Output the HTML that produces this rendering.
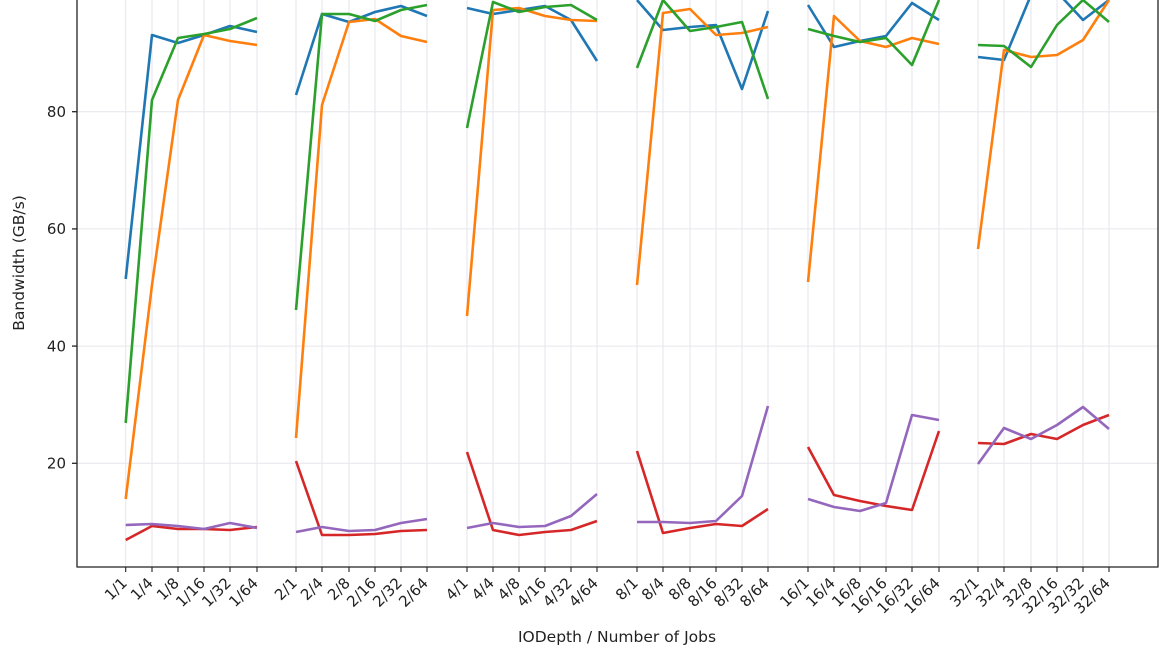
<!DOCTYPE html>
<html><head><meta charset="utf-8"><style>
html,body{margin:0;padding:0;background:#fff}
svg{display:block;font-family:"DejaVu Sans","Liberation Sans",sans-serif}
</style></head><body>
<svg width="1170" height="663" viewBox="0 0 1170 663" xmlns="http://www.w3.org/2000/svg">
<g stroke="#e6e6ec" stroke-width="1">
<line x1="77" y1="111.7" x2="1158" y2="111.7"/><line x1="77" y1="228.9" x2="1158" y2="228.9"/><line x1="77" y1="346.1" x2="1158" y2="346.1"/><line x1="77" y1="463.3" x2="1158" y2="463.3"/>
<line x1="125.7" y1="0" x2="125.7" y2="567"/><line x1="152" y1="0" x2="152" y2="567"/><line x1="178" y1="0" x2="178" y2="567"/><line x1="204" y1="0" x2="204" y2="567"/><line x1="230" y1="0" x2="230" y2="567"/><line x1="257" y1="0" x2="257" y2="567"/>
<line x1="296" y1="0" x2="296" y2="567"/><line x1="322" y1="0" x2="322" y2="567"/><line x1="349" y1="0" x2="349" y2="567"/><line x1="375" y1="0" x2="375" y2="567"/><line x1="401" y1="0" x2="401" y2="567"/><line x1="427" y1="0" x2="427" y2="567"/>
<line x1="467" y1="0" x2="467" y2="567"/><line x1="493" y1="0" x2="493" y2="567"/><line x1="519" y1="0" x2="519" y2="567"/><line x1="545" y1="0" x2="545" y2="567"/><line x1="571" y1="0" x2="571" y2="567"/><line x1="597" y1="0" x2="597" y2="567"/>
<line x1="637" y1="0" x2="637" y2="567"/><line x1="663" y1="0" x2="663" y2="567"/><line x1="690" y1="0" x2="690" y2="567"/><line x1="716" y1="0" x2="716" y2="567"/><line x1="742" y1="0" x2="742" y2="567"/><line x1="768" y1="0" x2="768" y2="567"/>
<line x1="808" y1="0" x2="808" y2="567"/><line x1="834" y1="0" x2="834" y2="567"/><line x1="860" y1="0" x2="860" y2="567"/><line x1="886" y1="0" x2="886" y2="567"/><line x1="912" y1="0" x2="912" y2="567"/><line x1="939" y1="0" x2="939" y2="567"/>
<line x1="978" y1="0" x2="978" y2="567"/><line x1="1004" y1="0" x2="1004" y2="567"/><line x1="1031" y1="0" x2="1031" y2="567"/><line x1="1057" y1="0" x2="1057" y2="567"/><line x1="1083" y1="0" x2="1083" y2="567"/><line x1="1109" y1="0" x2="1109" y2="567"/>
</g>
<g fill="none" stroke-width="2.6" stroke-linejoin="round">
<g stroke="#1f77b4">
<polyline points="125.7,279 152,35 178,43 204,35 230,26 257,32"/>
<polyline points="296,95 322,14 349,22 375,12 401,6 427,16"/>
<polyline points="467,8 493,14 519,10 545,6 571,20 597,61"/>
<polyline points="637,0 663,30 690,27 716,25 742,89 768,11"/>
<polyline points="808,5 834,47 860,41 886,36 912,3 939,20"/>
<polyline points="978,57 1004,60 1031,-5 1057,-8 1083,20 1109,0"/>
</g>
<g stroke="#ff7f0e">
<polyline points="125.7,499 152,285 178,100 204,35 230,41 257,45"/>
<polyline points="296,438 322,105 349,22 375,19 401,36 427,42"/>
<polyline points="467,316 493,10 519,8 545,16 571,20 597,21"/>
<polyline points="637,285 663,13 690,9 716,35 742,33 768,27"/>
<polyline points="808,282 834,16 860,41 886,47 912,38 939,44"/>
<polyline points="978,249 1004,50 1031,57 1057,55 1083,40 1109,0"/>
</g>
<g stroke="#2ca02c">
<polyline points="125.7,423 152,100 178,38 204,34 230,29 257,18"/>
<polyline points="296,310 322,14 349,14 375,21 401,10 427,5"/>
<polyline points="467,128 493,2 519,12 545,7 571,5 597,20"/>
<polyline points="637,68 663,0 690,31 716,27 742,22 768,99"/>
<polyline points="808,29 834,36 860,42 886,38 912,65 939,0"/>
<polyline points="978,45 1004,46 1031,67 1057,25 1083,0 1109,22"/>
</g>
<g stroke="#d62728">
<polyline points="125.7,540 152,526 178,529 204,529 230,530 257,527"/>
<polyline points="296,461 322,535 349,535 375,534 401,531 427,530"/>
<polyline points="467,452 493,530 519,535 545,532 571,530 597,521"/>
<polyline points="637,451 663,533 690,528 716,524 742,526 768,509"/>
<polyline points="808,447 834,495 860,501 886,506 912,510 939,431"/>
<polyline points="978,443 1004,444 1031,434 1057,439 1083,425 1109,415"/>
</g>
<g stroke="#9467bd">
<polyline points="125.7,525 152,524 178,526 204,529 230,523 257,528"/>
<polyline points="296,532 322,527 349,531 375,530 401,523 427,519"/>
<polyline points="467,528 493,523 519,527 545,526 571,516 597,494"/>
<polyline points="637,522 663,522 690,523 716,521 742,496 768,406"/>
<polyline points="808,499 834,507 860,511 886,503 912,415 939,420"/>
<polyline points="978,464 1004,428 1031,439 1057,425 1083,407 1109,429"/>
</g>
</g>
<g stroke="#222" stroke-width="1.3" fill="none">
<line x1="77" y1="0" x2="77" y2="567"/><line x1="1158" y1="0" x2="1158" y2="567"/><line x1="76.5" y1="567" x2="1158.5" y2="567"/>
<line x1="72" y1="111.7" x2="77" y2="111.7"/><line x1="72" y1="228.9" x2="77" y2="228.9"/><line x1="72" y1="346.1" x2="77" y2="346.1"/><line x1="72" y1="463.3" x2="77" y2="463.3"/>
</g>
<g stroke="#222" stroke-width="1.1">
<path d="M125.7 567v5M152 567v5M178 567v5M204 567v5M230 567v5M257 567v5M296 567v5M322 567v5M349 567v5M375 567v5M401 567v5M427 567v5M467 567v5M493 567v5M519 567v5M545 567v5M571 567v5M597 567v5M637 567v5M663 567v5M690 567v5M716 567v5M742 567v5M768 567v5M808 567v5M834 567v5M860 567v5M886 567v5M912 567v5M939 567v5M978 567v5M1004 567v5M1031 567v5M1057 567v5M1083 567v5M1109 567v5"/>
</g>
<g font-size="15" fill="#222" text-anchor="end">
<text x="66" y="0">100</text>
<text x="66" y="117">80</text><text x="66" y="234.2">60</text><text x="66" y="351.4">40</text><text x="66" y="468.6">20</text>
</g>
<g font-size="15" fill="#222" text-anchor="end">
<text transform="translate(128,584) rotate(-45)">1/1</text>
<text transform="translate(154,584) rotate(-45)">1/4</text>
<text transform="translate(180,584) rotate(-45)">1/8</text>
<text transform="translate(206,584) rotate(-45)">1/16</text>
<text transform="translate(232,584) rotate(-45)">1/32</text>
<text transform="translate(259,584) rotate(-45)">1/64</text>
<text transform="translate(298,584) rotate(-45)">2/1</text>
<text transform="translate(324,584) rotate(-45)">2/4</text>
<text transform="translate(351,584) rotate(-45)">2/8</text>
<text transform="translate(377,584) rotate(-45)">2/16</text>
<text transform="translate(403,584) rotate(-45)">2/32</text>
<text transform="translate(429,584) rotate(-45)">2/64</text>
<text transform="translate(469,584) rotate(-45)">4/1</text>
<text transform="translate(495,584) rotate(-45)">4/4</text>
<text transform="translate(521,584) rotate(-45)">4/8</text>
<text transform="translate(547,584) rotate(-45)">4/16</text>
<text transform="translate(573,584) rotate(-45)">4/32</text>
<text transform="translate(599,584) rotate(-45)">4/64</text>
<text transform="translate(639,584) rotate(-45)">8/1</text>
<text transform="translate(665,584) rotate(-45)">8/4</text>
<text transform="translate(692,584) rotate(-45)">8/8</text>
<text transform="translate(718,584) rotate(-45)">8/16</text>
<text transform="translate(744,584) rotate(-45)">8/32</text>
<text transform="translate(770,584) rotate(-45)">8/64</text>
<text transform="translate(810,584) rotate(-45)">16/1</text>
<text transform="translate(836,584) rotate(-45)">16/4</text>
<text transform="translate(862,584) rotate(-45)">16/8</text>
<text transform="translate(888,584) rotate(-45)">16/16</text>
<text transform="translate(914,584) rotate(-45)">16/32</text>
<text transform="translate(941,584) rotate(-45)">16/64</text>
<text transform="translate(980,584) rotate(-45)">32/1</text>
<text transform="translate(1006,584) rotate(-45)">32/4</text>
<text transform="translate(1033,584) rotate(-45)">32/8</text>
<text transform="translate(1059,584) rotate(-45)">32/16</text>
<text transform="translate(1085,584) rotate(-45)">32/32</text>
<text transform="translate(1111,584) rotate(-45)">32/64</text>
</g>
<text x="617" y="642" font-size="15.5" fill="#222" text-anchor="middle">IODepth / Number of Jobs</text>
<text transform="translate(24,263) rotate(-90)" font-size="15.5" fill="#222" text-anchor="middle">Bandwidth (GB/s)</text>
</svg>
</body></html>
